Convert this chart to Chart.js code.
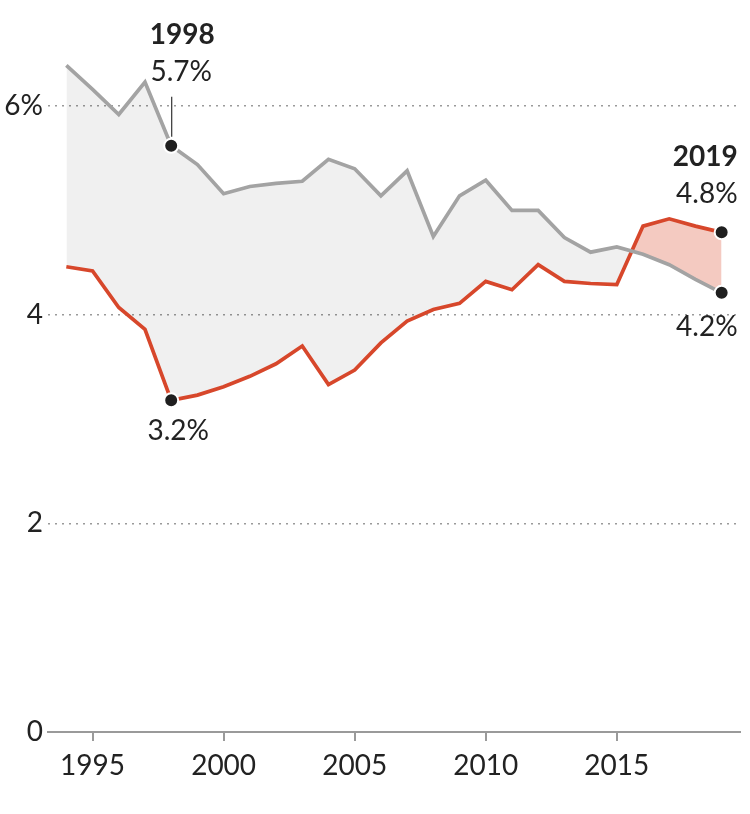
<!DOCTYPE html>
<html>
<head>
<meta charset="utf-8">
<script src="https://cdn.jsdelivr.net/npm/chart.js@4/dist/chart.umd.min.js"></script>
<style>
html,body{margin:0;padding:0;background:#fff;}
#wrap{width:750px;height:814px;}
</style>
</head>
<body>
<div id="wrap"><canvas id="c" width="750" height="814"></canvas></div>
<script>
const years = [1994,1995,1996,1997,1998,1999,2000,2001,2002,2003,2004,2005,2006,2007,2008,2009,2010,2011,2012,2013,2014,2015,2016,2017,2018,2019];
const grayValues = [6.39,6.16,5.92,6.23,5.62,5.44,5.16,5.23,5.26,5.28,5.49,5.40,5.14,5.38,4.75,5.14,5.29,5.00,5.00,4.74,4.60,4.65,4.58,4.48,4.34,4.21];
const redValues  = [4.46,4.42,4.07,3.86,3.18,3.23,3.31,3.41,3.53,3.70,3.33,3.47,3.73,3.94,4.05,4.11,4.32,4.24,4.48,4.32,4.30,4.29,4.85,4.92,4.85,4.79];
const xTicks = [1995,2000,2005,2010,2015];
const yTicks = [0,2,4,6];
const highlightYears = [1998,2019];
const callouts = [
  {year:1998, title:'1998', grayLabel:'5.7%', redLabel:'3.2%'},
  {year:2019, title:'2019', grayLabel:'4.2%', redLabel:'4.8%'}
];

const FONT = 'Lato, "Noto Sans", sans-serif';
const GRAY = '#a3a3a3';
const RED = '#d7472b';
const FS = 28;

const toXY = (vals) => years.map((y,i)=>({x:y, y:vals[i]}));
const dotRadius = ctx => highlightYears.includes(years[ctx.dataIndex]) ? 7 : 0;

const labelPlugin = {
  id:'labels',
  afterDatasetsDraw(chart){
    const c = chart.ctx, xs = chart.scales.x, ys = chart.scales.y;
    c.save();
    c.fillStyle = '#222';
    c.textBaseline = 'middle';
    callouts.forEach(co=>{
      const i = years.indexOf(co.year);
      const xp = xs.getPixelForValue(co.year);
      const gy = ys.getPixelForValue(grayValues[i]);
      const ry = ys.getPixelForValue(redValues[i]);
      if (co.year === 1998) {
        c.textAlign = 'center';
        c.font = 'bold ' + FS + 'px ' + FONT;
        c.fillText(co.title, xp+11, gy-111);
        c.font = FS + 'px ' + FONT;
        c.fillText(co.grayLabel, xp+10, gy-74);
        c.fillText(co.redLabel, xp+7, ry+31);
        c.strokeStyle = '#333';
        c.lineWidth = 1.2;
        c.beginPath();
        c.moveTo(xp+0.5, gy-49);
        c.lineTo(xp+0.5, gy-9);
        c.stroke();
      } else {
        c.textAlign = 'right';
        c.font = 'bold ' + FS + 'px ' + FONT;
        c.fillText(co.title, xp+16, ry-75);
        c.font = FS + 'px ' + FONT;
        c.fillText(co.redLabel, xp+16, ry-38);
        c.fillText(co.grayLabel, xp+16, gy+34);
      }
    });
    c.restore();
  }
};

new Chart(document.getElementById('c'), {
  type:'line',
  data:{
    datasets:[
      {
        label:'gray',
        data: toXY(grayValues),
        borderColor: GRAY,
        borderWidth: 3.7,
        fill:false,
        pointRadius: dotRadius,
        pointBackgroundColor:'#1f1f1f',
        pointBorderColor:'#fff',
        pointBorderWidth:2,
        tension:0
      },
      {
        label:'red',
        data: toXY(redValues),
        borderColor: RED,
        borderWidth: 3.7,
        fill:{target:0, above:'rgba(217,71,43,0.29)', below:'rgba(0,0,0,0.058)'},
        pointRadius: dotRadius,
        pointBackgroundColor:'#1f1f1f',
        pointBorderColor:'#fff',
        pointBorderWidth:2,
        tension:0
      }
    ]
  },
  options:{
    responsive:false,
    animation:false,
    devicePixelRatio:1,
    layout:{padding:{top:54,right:10,left:0,bottom:0}},
    plugins:{legend:{display:false},tooltip:{enabled:false}},
    scales:{
      x:{
        type:'linear',
        min:1993.3, max:2019.7,
        afterBuildTicks: s => { s.ticks = xTicks.map(v=>({value:v})); },
        afterFit: s => { s.height = 82; },
        border:{display:true, color:'#9a9a9a', width:2},
        grid:{drawOnChartArea:false, drawTicks:true, tickLength:9, color:'#9a9a9a', lineWidth:2},
        ticks:{color:'#222', font:{family:FONT, size:FS}, padding:8, maxRotation:0,
               callback: v => String(v)}
      },
      y:{
        min:0, max:6.5,
        afterBuildTicks: s => { s.ticks = yTicks.map(v=>({value:v})); },
        afterFit: s => { s.width = 48; },
        border:{display:false, dash:[2,5]},
        grid:{color:'#9a9a9a', lineWidth:1.5, drawTicks:false},
        ticks:{color:'#222', font:{family:FONT, size:FS}, padding:5,
               callback: v => v===6 ? '6%' : String(v)}
      }
    }
  },
  plugins:[labelPlugin]
});
</script>
</body>
</html>
